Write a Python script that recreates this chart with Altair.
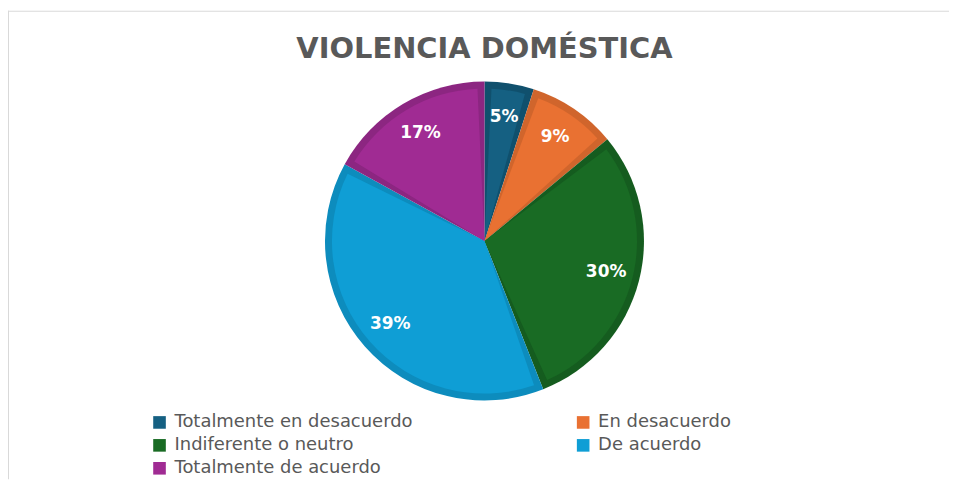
import altair as alt
import pandas as pd

title_text = "VIOLENCIA DOMÉSTICA"
categories = ["Totalmente en desacuerdo", "En desacuerdo", "Indiferente o neutro",
              "De acuerdo", "Totalmente de acuerdo"]
values = [5, 9, 30, 39, 17]
fill_colors = ["#156082", "#E97132", "#196B24", "#0F9ED5", "#A02B93"]
edge_colors = ["#10506d", "#d0652c", "#155c1f", "#0d8cbd", "#8c2681"]
labels = [f"{v}%" for v in values]
# legend reading order (two columns, filled column by column)
legend_order = ["Totalmente en desacuerdo", "Indiferente o neutro", "Totalmente de acuerdo",
                "En desacuerdo", "De acuerdo"]

df = pd.DataFrame({
    "cat": categories,
    "value": values,
    "idx": list(range(len(categories))),
    "edge": edge_colors,
    "label": labels,
})

W, H = 944, 470
CX, CY = 478, 231
R = 160
LEG_FONT = "DejaVu Sans"
BOLD_FONT = "DejaVu Sans"

base = alt.Chart(df).encode(
    theta=alt.Theta("value:Q", stack=True),
    order=alt.Order("idx:O"),
    x=alt.value(CX),
    y=alt.value(CY),
)

outer = base.mark_arc(outerRadius=R, strokeWidth=0).encode(
    fill=alt.Fill("edge:N", scale=None, legend=None)
)

inner = base.mark_arc(outerRadius=R - 7, padAngle=0.092, strokeWidth=0).encode(
    color=alt.Color(
        "cat:N",
        title=None,
        scale=alt.Scale(domain=categories, range=fill_colors),
        legend=alt.Legend(
            orient="none", legendX=143, legendY=404, columns=2, values=legend_order,
            columnPadding=162, rowPadding=5, symbolType="square",
            symbolSize=160, symbolStrokeWidth=0, labelFontSize=18,
            labelColor="#595959", labelFont=LEG_FONT, labelOffset=6,
            labelLimit=400,
        ),
    )
)

text = base.mark_text(radius=126, font=BOLD_FONT, fontSize=17, fontWeight="bold",
                      color="white").encode(text="label:N")

title = alt.Chart(pd.DataFrame({"t": [title_text]})).mark_text(
    font=BOLD_FONT, fontSize=29, fontWeight="bold", color="#595959",
    baseline="middle", align="center"
).encode(x=alt.value(CX), y=alt.value(38), text="t:N")

frame_top = alt.Chart(pd.DataFrame({"a": [0]})).mark_rule(color="#d9d9d9", strokeWidth=1).encode(
    x=alt.value(0), x2=alt.value(W), y=alt.value(0.5))
frame_left = alt.Chart(pd.DataFrame({"a": [0]})).mark_rule(color="#d9d9d9", strokeWidth=1).encode(
    x=alt.value(0.5), y=alt.value(0), y2=alt.value(H))

chart = alt.layer(frame_top, frame_left, outer, inner, text, title).properties(
    width=W, height=H,
    autosize=alt.AutoSizeParams(type="none"),
    padding={"left": 0, "top": 2, "right": 0, "bottom": 0},
).configure_view(stroke=None)

chart.save("out.html", embed_options={"renderer": "svg", "actions": False})
